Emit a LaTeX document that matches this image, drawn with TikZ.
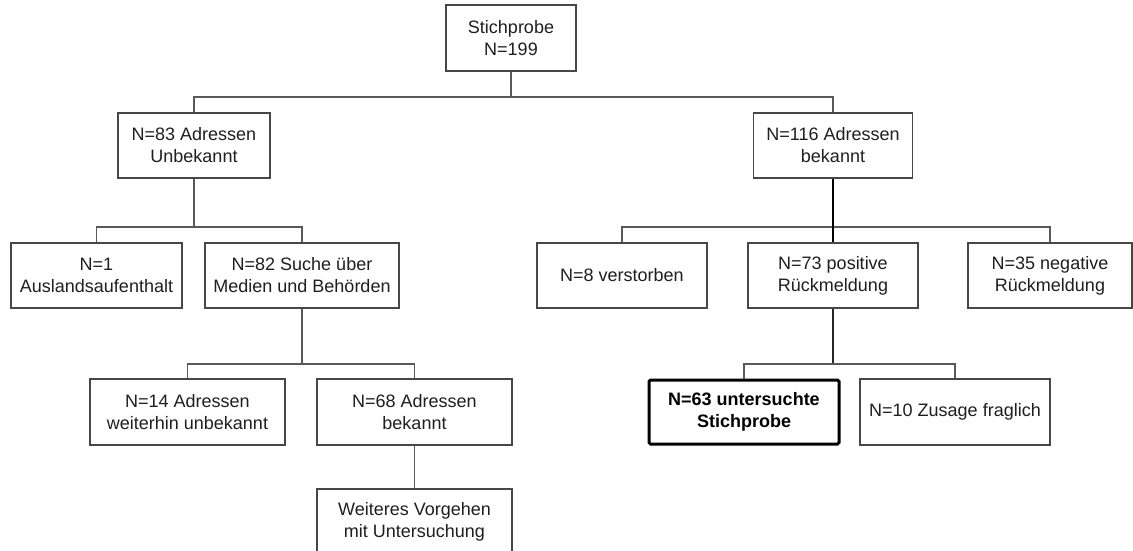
\documentclass[tikz,border=0pt]{standalone}
\usepackage{fontspec}
\setmainfont{Liberation Sans}
\begin{document}
\begin{tikzpicture}[x=1pt,y=-1pt,
  box/.style={draw=black!72, line width=1.1pt, fill=white, align=center, inner sep=0pt,
    font=\fontsize{18}{22}\selectfont, text=black!88, minimum height=65pt},
  boldbox/.style={box, draw=black, line width=3pt, rounded corners=1.5pt, font=\fontsize{18}{22}\selectfont\bfseries, text=black},
  conn/.style={draw=black!65, line width=1.1pt},
  connd/.style={draw=black, line width=1.8pt},
  conns/.style={draw=black!85, line width=1.1pt}]
\useasboundingbox[fill=white] (0,0) rectangle (1133,551);
% nodes
\node[box, minimum width=130pt, minimum height=66pt] (top) at (511,38) {Stichprobe\\N=199};
\node[box, minimum width=152pt] (n83) at (194,145.5) {N=83 Adressen\\Unbekannt};
\node[box, minimum width=159pt] (n116) at (833,145.5) {N=116 Adressen\\bekannt};
\node[box, minimum width=171pt] (n1) at (96.5,275.5) {N=1\\Auslandsaufenthalt};
\node[box, minimum width=194pt] (n82) at (302,275.5) {N=82 Suche über\\Medien und Behörden};
\node[box, minimum width=170pt] (n8) at (622,275.5) {N=8 verstorben};
\node[box, minimum width=170pt] (n73) at (833,275.5) {N=73 positive\\Rückmeldung};
\node[box, minimum width=164pt] (n35) at (1050,275.5) {N=35 negative\\Rückmeldung};
\node[box, minimum width=195pt, minimum height=66pt] (n14) at (187.5,412) {N=14 Adressen\\weiterhin unbekannt};
\node[box, minimum width=195pt, minimum height=66pt] (n68) at (414.5,412) {N=68 Adressen\\bekannt};
\node[box, minimum width=195pt, minimum height=66pt] (weit) at (414.5,522) {Weiteres Vorgehen\\mit Untersuchung};
\node[boldbox, minimum width=190pt, minimum height=64pt] (n63) at (744,412) {N=63 untersuchte\\Stichprobe};
\node[box, minimum width=190pt, minimum height=66pt] (n10) at (955,412) {N=10 Zusage fraglich};
% bus levels
\coordinate (b1) at (0,97);
\coordinate (b2) at (0,227);
\coordinate (b3) at (0,364);
% connectors
\draw[conn] (top.south) -- (top.south |- b1);
\draw[conn] (n83.north) -- (n83.north |- b1) -- (n116.north |- b1) -- (n116.north);
\draw[conn] (n83.south) -- (n83.south |- b2);
\draw[conn] (n1.north) -- (n1.north |- b2) -- (n82.north |- b2) -- (n82.north);
\draw[conn] (n8.north) -- (n8.north |- b2) -- (n35.north |- b2) -- (n35.north);
\draw[connd] (n116.south) -- (n116.south |- n73.north);
\draw[conn] (n82.south) -- (n82.south |- b3);
\draw[conn] (n14.north) -- (n14.north |- b3) -- (n68.north |- b3) -- (n68.north);
\draw[conns] (n73.south) -- (n73.south |- b3);
\draw[conn] (n63.north) -- (n63.north |- b3) -- (n10.north |- b3) -- (n10.north);
\draw[conn] (n68.south) -- (weit.north);
\end{tikzpicture}
\end{document}
